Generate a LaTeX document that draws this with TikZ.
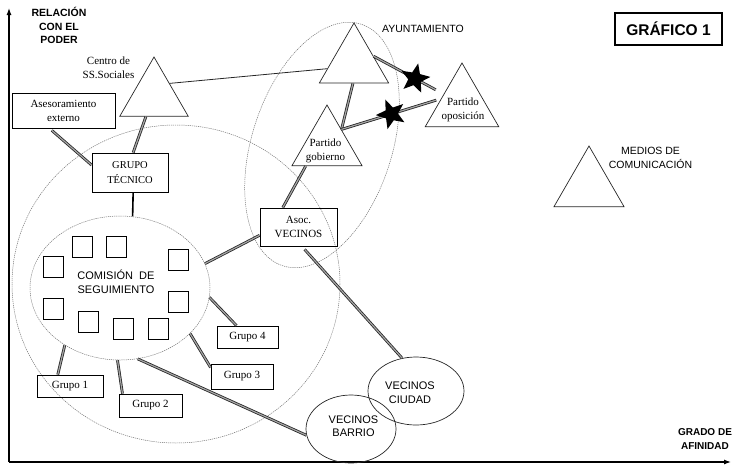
\documentclass[tikz,border=0pt]{standalone}
\usepackage{fontspec}
\setmainfont{Liberation Serif}
\setsansfont{Liberation Sans}
\usetikzlibrary{shapes.geometric, arrows.meta}

\begin{document}
\begin{tikzpicture}[x=1pt, y=-1pt,
  rmtext/.style={font=\fontsize{11}{14}\selectfont, align=center, inner sep=0},
  sftext/.style={font=\sffamily\fontsize{10.5}{14}\selectfont, align=center, inner sep=0},
  axistext/.style={font=\sffamily\bfseries\fontsize{10.5}{13.5}\selectfont, align=center, inner sep=0},
  box/.style={draw, line width=0.8pt, inner sep=0, align=center, font=\fontsize{11}{14}\selectfont},
  tri/.style={regular polygon, regular polygon sides=3, draw=black!85, line width=0.7pt, inner sep=0},
  oval/.style={ellipse, draw=black!85, line width=0.7pt, inner sep=0},
  dots/.style={draw=black!55, line width=0.5pt, dash pattern=on 1.2pt off 0.9pt},
  conn/.style={draw=black!85, double=black!35, double distance=1.2pt, line width=0.8pt},
  plainlink/.style={draw=black!85, line width=0.8pt},
  starmark/.style={star, star points=5, star point ratio=2.3, fill=black, minimum size=31pt, inner sep=0},
  sq/.style={draw, line width=0.7pt, minimum width=20pt, minimum height=21pt, inner sep=0},
  axis/.style={line width=1.2pt, -{Latex[length=7pt,width=5pt]}}
]
\useasboundingbox (0,0) rectangle (732,467);

% axes
\coordinate (origin) at (9,462);
\coordinate (ytop) at (9,8);
\coordinate (xend) at (731,462);
\draw[axis] (origin) -- (ytop);
\draw[axis] (origin) -- (xend);
\node[axistext] (ylab) at (59,25.5) {RELACIÓN\\CON EL\\PODER};
\node[axistext, font=\sffamily\bfseries\fontsize{10}{13.5}\selectfont] (xlab) at (705,439) {GRADO DE\\AFINIDAD};

% title
\node[draw, line width=1.8pt, minimum width=107pt, minimum height=32pt, inner sep=0,
      font=\sffamily\bfseries\fontsize{15.5}{18}\selectfont] (title) at (668.5,29) {GRÁFICO 1};

% dotted groupings
\draw[dots] (176,284) ellipse [x radius=164, y radius=159];
\begin{scope}[rotate around={-18:(322,145)}]
  \draw[dots] (322,145) ellipse [x radius=70, y radius=127];
\end{scope}

% triangles
\node[tri, minimum size=79pt] (ss) at (154,96.5) {};
\node[rmtext] (sslab) at (108.5,67.5) {Centro de\\SS.Sociales};
\node[tri, minimum size=80pt] (ay) at (354,63) {};
\node[sftext] (aylab) at (423,28.5) {AYUNTAMIENTO};
\node[tri, minimum size=85pt] (op) at (462,105.5) {};
\node[rmtext] (oplab) at (463,110) {Partido\\oposición};
\node[tri, minimum size=81pt] (gob) at (327,145.5) {};
\node[rmtext] (goblab) at (325.5,151) {Partido\\gobierno};
\node[tri, minimum size=81pt] (med) at (589,186.5) {};
\node[sftext] (medlab) at (650.5,158) {MEDIOS DE\\COMUNICACIÓN};

% boxes
\node[box, minimum width=103pt, minimum height=35pt] (ase) at (63.5,110.5) {Asesoramiento\\externo};
\node[box, minimum width=76pt, minimum height=39pt, font=\fontsize{10.5}{15}\selectfont] (gt) at (130,172.5) {GRUPO\\TÉCNICO};
\node[box, minimum width=77pt, minimum height=38pt] (asoc) at (298.5,227) {Asoc.\\VECINOS};
\node[box, minimum width=66pt, minimum height=22pt] (g1) at (70,386) {Grupo 1};
\node[box, minimum width=63pt, minimum height=23pt] (g2) at (150.5,405.5) {Grupo 2};
\node[box, minimum width=62pt, minimum height=25pt] (g3) at (242,376.5) {Grupo 3};
\node[box, minimum width=61pt, minimum height=22pt] (g4) at (247.5,337) {Grupo 4};

% follow-up commission with its members
\node[ellipse, dots, minimum width=180pt, minimum height=144pt, inner sep=0] (com) at (120,288) {};
\node[sftext, font=\sffamily\fontsize{11}{14}\selectfont] (comlab) at (116,282) {COMISIÓN~ DE\\SEGUIMIENTO};
\foreach \n/\x/\y in {1/82/246.5, 2/116.5/246.5, 3/53.5/266.5, 4/178/260, 5/53.5/308.5,
                      6/178/301.5, 7/88.5/321.5, 8/123/328.5, 9/158/328.5}
  \node[sq] (m\n) at (\x,\y) {};

% neighbours
\node[oval, minimum width=96pt, minimum height=68pt] (ciu) at (416,391) {};
\node[oval, minimum width=90pt, minimum height=68pt] (bar) at (351,429) {};
\node[sftext, font=\sffamily\fontsize{11}{13.5}\selectfont] (ciulab) at (410,392.5) {VECINOS\\CIUDAD};
\node[sftext, font=\sffamily\fontsize{11}{13.5}\selectfont] (barlab) at (353.5,426) {VECINOS\\BARRIO};

% links
\draw[conn, shorten <=3pt] (ase.-128) -- (gt.169);
\draw[conn] (ss.-112) -- (gt.81);
\draw[plainlink] (ss.40) -- (ay.-168);
\draw[conn, shorten >=9pt] (ay.19) -- node[starmark, pos=0.59, rotate=-12] (st1) {} (op.148);
\draw[conn] (ay.-93) -- (gob.48);
\draw[conn, shorten >=5pt] (gob.48) -- node[starmark, pos=0.5, rotate=22] (st2) {} (op.162);
\draw[conn] (gob.-136) -- (asoc.129);
\draw[conn] (com.16) -- (asoc.-168);
\draw[conn, shorten <=4pt] (asoc.-80) -- (ciu.113);
\draw[line width=1.6pt] (gt.-81) -- (com.80);
\draw[conn] (com.-6) -- (g4.134);
\draw[conn] (com.-33) -- (g3.164);
\draw[conn] (com.-92) -- (g2.157);
\draw[conn] (com.-134) -- (g1.137);
\draw[conn] (com.-76) -- (bar.-172);
\end{tikzpicture}
\end{document}
